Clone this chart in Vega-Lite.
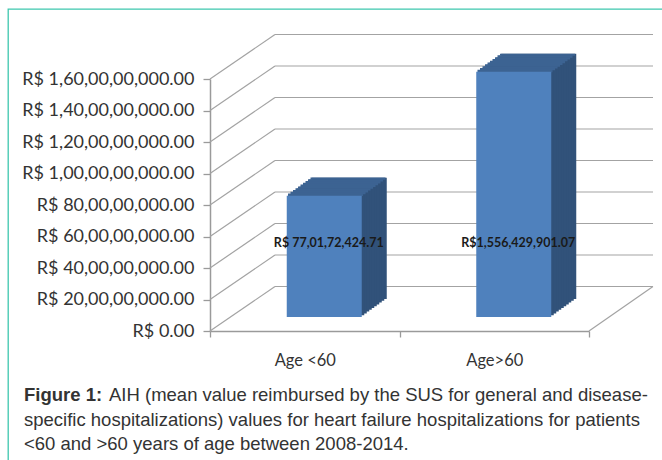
{
  "$schema": "https://vega.github.io/schema/vega-lite/v6.json",
  "width": 654,
  "height": 451,
  "autosize": {"type": "none"},
  "padding": {"left": 8, "top": 9, "right": 0, "bottom": 0},
  "background": "white",
  "config": {
    "view": {"stroke": "#3ec7ae", "strokeWidth": 1.3, "strokeDash": [654, 1105, 470, 10]},
    "axis": {"grid": false, "domainColor": "#9a9a9a", "tickColor": "#9a9a9a", "domainWidth": 1.5, "tickWidth": 1.3, "labelFont": "Lato", "labelFontSize": 16.5, "labelColor": "#333333"}
  },
  "datasets": {
    "bars": [
      {"group": "Age <60", "value": 770172424.71, "label": "R$ 77,01,72,424.71"},
      {"group": "Age>60", "value": 1556429901.07, "label": "R$1,556,429,901.07"}
    ],
    "ticks": [
      {"tick": 0}, {"tick": 200000000}, {"tick": 400000000}, {"tick": 600000000}, {"tick": 800000000},
      {"tick": 1000000000}, {"tick": 1200000000}, {"tick": 1400000000}, {"tick": 1600000000}
    ]
  },
  "layer": [
    {
      "data": {"name": "ticks"},
      "mark": {"type": "rule", "color": "#a3a3a3", "strokeWidth": 1.2, "y2Offset": -44.5},
      "encoding": {
        "x": {"value": 202}, "x2": {"value": 267},
        "y": {"field": "tick", "type": "quantitative", "title": null},
        "y2": {"field": "tick"}
      }
    },
    {
      "data": {"name": "ticks"},
      "mark": {"type": "rule", "color": "#a3a3a3", "strokeWidth": 1.2, "yOffset": -44.5},
      "encoding": {
        "x": {"value": 267}, "x2": {"value": 645},
        "y": {"field": "tick", "type": "quantitative", "title": null}
      }
    },
    {
      "data": {"values": [{}]},
      "mark": {"type": "rule", "color": "#a3a3a3", "strokeWidth": 1.2, "y2Offset": -44.5},
      "encoding": {
        "x": {"value": 581}, "x2": {"value": 645},
        "y": {"datum": 0}, "y2": {"datum": 0}
      }
    },
    {
      "data": {"name": "bars"},
      "encoding": {
        "x": {
          "field": "group", "type": "nominal", "sort": null,
          "scale": {"range": [202, 581], "paddingInner": 0, "paddingOuter": 0},
          "axis": {"title": null, "orient": "bottom", "offset": -129, "tickBand": "extent", "tickSize": 6, "labelPadding": 15, "labelAngle": 0}
        },
        "y": {
          "field": "value", "type": "quantitative",
          "scale": {"domain": [0, 1600000000], "range": [322, 70], "nice": false, "zero": true},
          "axis": {
            "title": null, "orient": "left", "offset": -202, "tickSize": 7, "labelPadding": 9, "labelFontSize": 18,
            "values": [0, 200000000, 400000000, 600000000, 800000000, 1000000000, 1200000000, 1400000000, 1600000000],
            "labelExpr": "datum.value == 0 ? 'R$ 0.00' : 'R$ ' + (datum.value >= 1000000000 ? floor(datum.value / 1000000000) + ',' + format((datum.value % 1000000000) / 10000000, '02d') : format(datum.value / 10000000, 'd')) + ',00,00,000.00'"
          }
        }
      },
      "layer": [
        {"mark": {"type": "bar", "width": 75, "color": "#31527a", "xOffset": 44.5, "yOffset": -32, "y2Offset": -32}},
        {"mark": {"type": "bar", "width": 75, "color": "#31527a", "xOffset": 42, "yOffset": -30.2, "y2Offset": -30.2}},
        {"mark": {"type": "bar", "width": 75, "color": "#31527a", "xOffset": 39.5, "yOffset": -28.4, "y2Offset": -28.4}},
        {"mark": {"type": "bar", "width": 75, "color": "#31527a", "xOffset": 37, "yOffset": -26.6, "y2Offset": -26.6}},
        {"mark": {"type": "bar", "width": 75, "color": "#31527a", "xOffset": 34.5, "yOffset": -24.8, "y2Offset": -24.8}},
        {"mark": {"type": "bar", "width": 75, "color": "#31527a", "xOffset": 32, "yOffset": -23, "y2Offset": -23}},
        {"mark": {"type": "bar", "width": 75, "color": "#31527a", "xOffset": 29.5, "yOffset": -21.2, "y2Offset": -21.2}},
        {"mark": {"type": "bar", "width": 75, "color": "#31527a", "xOffset": 27, "yOffset": -19.4, "y2Offset": -19.4}},
        {"mark": {"type": "bar", "width": 75, "color": "#31527a", "xOffset": 24.5, "yOffset": -17.6, "y2Offset": -17.6}},
        {"mark": {"type": "bar", "width": 75, "color": "#31527a", "xOffset": 22, "yOffset": -15.8, "y2Offset": -15.8}},
        {"mark": {"type": "tick", "size": 75, "thickness": 2.4, "color": "#3c6392", "opacity": 1, "xOffset": 20.75, "yOffset": -14.9}},
        {"mark": {"type": "tick", "size": 75, "thickness": 2.4, "color": "#3c6392", "opacity": 1, "xOffset": 23.25, "yOffset": -16.7}},
        {"mark": {"type": "tick", "size": 75, "thickness": 2.4, "color": "#3c6392", "opacity": 1, "xOffset": 25.75, "yOffset": -18.5}},
        {"mark": {"type": "tick", "size": 75, "thickness": 2.4, "color": "#3c6392", "opacity": 1, "xOffset": 28.25, "yOffset": -20.3}},
        {"mark": {"type": "tick", "size": 75, "thickness": 2.4, "color": "#3c6392", "opacity": 1, "xOffset": 30.75, "yOffset": -22.1}},
        {"mark": {"type": "tick", "size": 75, "thickness": 2.4, "color": "#3c6392", "opacity": 1, "xOffset": 33.25, "yOffset": -23.9}},
        {"mark": {"type": "tick", "size": 75, "thickness": 2.4, "color": "#3c6392", "opacity": 1, "xOffset": 35.75, "yOffset": -25.7}},
        {"mark": {"type": "tick", "size": 75, "thickness": 2.4, "color": "#3c6392", "opacity": 1, "xOffset": 38.25, "yOffset": -27.5}},
        {"mark": {"type": "tick", "size": 75, "thickness": 2.4, "color": "#3c6392", "opacity": 1, "xOffset": 40.75, "yOffset": -29.3}},
        {"mark": {"type": "tick", "size": 75, "thickness": 2.2, "color": "#3c6392", "opacity": 1, "xOffset": 43.25, "yOffset": -31.1}},
        {"mark": {"type": "bar", "width": 75, "color": "#4f81bd", "xOffset": 19.5, "yOffset": -14, "y2Offset": -14}},
        {
          "mark": {"type": "text", "font": "Lato", "fontWeight": "bold", "fontSize": 12.5, "color": "#1a1a1a", "align": "center", "baseline": "middle", "dx": 24},
          "encoding": {"y": {"datum": 560000000}, "text": {"field": "label"}}
        }
      ]
    },
    {
      "data": {"values": [{}]},
      "mark": {"type": "text", "font": "Liberation Sans", "fontWeight": "bold", "fontSize": 18.5, "color": "#333333", "align": "left", "baseline": "alphabetic"},
      "encoding": {"x": {"value": 16}, "y": {"value": 392}, "text": {"value": "Figure 1:"}}
    },
    {
      "data": {"values": [{}]},
      "mark": {"type": "text", "font": "Liberation Sans", "fontSize": 18.5, "color": "#333333", "align": "left", "baseline": "alphabetic"},
      "encoding": {"x": {"value": 101}, "y": {"value": 392}, "text": {"value": "AIH (mean value reimbursed by the SUS for general and disease-"}}
    },
    {
      "data": {"values": [{}]},
      "mark": {"type": "text", "font": "Liberation Sans", "fontSize": 18.5, "color": "#333333", "align": "left", "baseline": "alphabetic"},
      "encoding": {"x": {"value": 16}, "y": {"value": 416.5}, "text": {"value": "specific hospitalizations) values for heart failure hospitalizations for patients"}}
    },
    {
      "data": {"values": [{}]},
      "mark": {"type": "text", "font": "Liberation Sans", "fontSize": 18.5, "color": "#333333", "align": "left", "baseline": "alphabetic"},
      "encoding": {"x": {"value": 16}, "y": {"value": 441}, "text": {"value": "<60 and >60 years of age between 2008-2014."}}
    }
  ]
}
